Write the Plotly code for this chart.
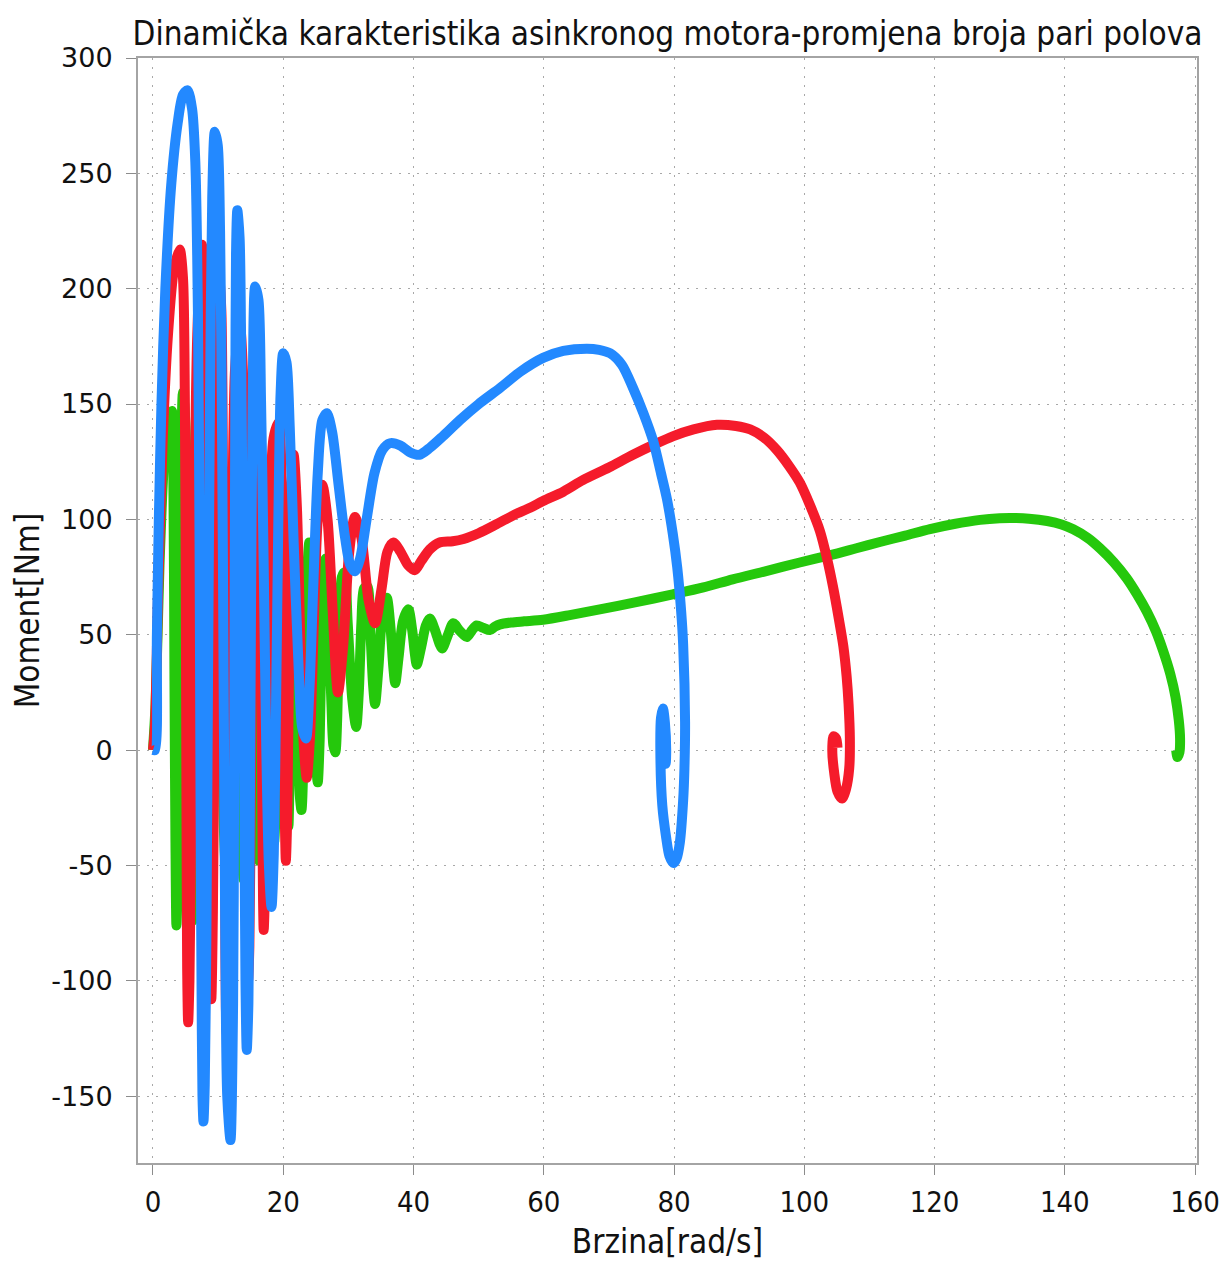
import plotly.graph_objects as go

# ---- data (speed [rad/s], torque [Nm]) ----
blue_x = [0, 0.3, 0.6, 0.9, 1.3, 1.9, 2.8, 3.8, 4.6, 5.3, 6.0, 6.5, 6.9, 7.15, 7.3, 7.45, 7.6, 7.75, 7.95,
          8.2, 8.45, 8.75, 9.1, 9.5, 9.95, 10.3, 10.6, 10.85, 11.1, 11.4, 11.9, 12.3, 12.45, 12.55, 12.65,
          12.75, 12.95, 13.3, 13.55, 13.8, 14.0, 14.2, 14.4, 14.65, 14.85, 15.05, 15.3, 15.7, 16.2, 16.6,
          17.0, 17.4, 17.8, 18.2, 18.55, 18.9, 19.25, 19.6, 20.0, 20.5, 21.0, 21.6, 22.3, 22.9, 23.5, 24.0,
          24.6, 25.3, 26.0, 26.7, 27.5, 28.5, 29.5, 30.3, 31.0, 31.8, 32.8, 34.0, 35.2, 36.4, 38.0, 39.5,
          40.9, 42.5, 44.5, 47.1, 50.0, 53.3, 56.4, 59.9, 63.0, 66.6, 68.5, 70.2, 72.0, 73.7, 75.3, 76.8,
          78.0, 78.9, 79.8, 80.5, 81.1, 81.4, 81.7, 81.6, 81.4, 80.9, 80.4, 79.9, 79.3, 78.8, 78.2, 77.9,
          78.0, 78.3, 78.6, 78.8, 78.7, 78.4, 78.5, 78.6]
blue_y = [0, 0, 50, 100, 150, 200, 245, 272, 284, 286, 278, 255, 190, 90, -20, -100, -150, -161, -145,
          -80, 30, 150, 240, 268, 262, 225, 140, 30, -80, -150, -169, -110, -20, 70, 160,
          215, 234, 222, 170, 80, -10, -100, -130, -110, -40, 60, 150, 201, 195, 150,
          80, 0, -50, -68, -45, 20, 100, 155, 172, 168, 140, 90, 40, 10, 5, 25,
          70, 120, 143, 146, 138, 115, 92, 80, 77.5, 83, 100, 120, 130, 133, 132, 129,
          128, 131, 136, 143, 150, 157, 164, 170, 173, 174, 173.5, 172, 167, 157, 146, 134,
          120, 109, 94, 79, 60, 46, 12, -8, -22, -40, -47, -49, -46, -38, -24, 0,
          14, 18, 12, 0, -6, -3, 2, 0]

red_x = [0, 0.3, 0.8, 1.5, 2.3, 3.2, 4.1, 4.6, 4.9, 5.05, 5.15, 5.25, 5.4, 5.6, 5.9, 6.3, 6.8, 7.5,
         8.0, 8.3, 8.5, 8.65, 8.8, 8.95, 9.2, 9.45, 9.7, 9.95, 10.2, 10.5, 10.75, 10.95, 11.1, 11.2,
         11.35, 11.55, 11.8, 12.15, 12.6, 13.3, 13.8, 14.1, 14.3, 14.45, 14.6, 14.8, 15.05, 15.35, 15.7,
         16.0, 16.35, 16.6, 16.8, 16.9, 17.0, 17.2, 17.5, 17.9, 18.5, 19.3, 19.8, 20.05, 20.2, 20.4,
         20.6, 20.9, 21.2, 21.6, 22.1, 22.6, 23.1, 23.6, 24.1, 24.7, 25.3, 26.0, 26.8, 27.6, 28.4,
         29.2, 30.1, 31.0, 32.0, 33.1, 34.1, 35.1, 36.0, 36.9, 38.0, 39.2, 40.2, 41.2, 42.5, 44.0,
         46.0, 47.7, 50.0, 52.8, 55.5, 57.9, 59.9, 63.0, 66.0, 70.0, 73.7, 77.0, 79.8, 83.0, 86.6,
         89.5, 91.7, 93.8, 95.8, 97.7, 99.3, 100.9, 102.4, 103.5, 104.4, 105.3, 106.0, 106.5, 106.8,
         107.0, 106.9, 106.4, 105.8, 105.1, 104.6, 104.3, 104.5, 104.9, 105.1]
red_y = [0, 10, 70, 135, 180, 208, 217, 205, 150, 60, -30, -95, -118, -100, -20, 90, 180, 219,
         205, 140, 40, -50, -100, -108, -70, 20, 120, 185, 204, 190, 120, 20, -70, -112,
         -123, -105, -20, 90, 165, 186, 165, 90, 0, -70, -100, -85, -10, 90, 150,
         168, 140, 60, -30, -65, -78, -60, 10, 90, 135, 142, 110, 30, -20, -48,
         -30, 40, 110, 128, 105, 50, 5, -12, 5, 55, 100, 115, 100, 60, 25,
         45, 85, 101, 92, 65, 55, 70, 86, 90, 86, 80, 78, 82, 87, 90,
         90.5, 91.5, 94, 98, 102, 105, 108, 112, 117, 122.5, 128, 132.5, 136, 139, 141,
         140.5, 139, 135.5, 130, 123, 116, 106, 95, 83, 71, 57, 45, 32, 20,
         5, -8, -17, -21, -18, -10, 0, 6, 5, 1]

green_x = [0, 0.4, 1.0, 1.7, 2.4, 2.9, 3.15, 3.3, 3.45, 3.6, 3.8, 4.0, 4.25, 4.6, 5.0, 5.3, 5.55,
           5.8, 6.1, 6.4, 6.7, 7.0, 7.3, 7.7, 8.0, 8.3, 8.7, 9.0, 9.3, 9.6, 9.9, 10.3, 10.6, 10.9,
           11.4, 11.7, 12.0, 12.25, 12.5, 12.9, 13.2, 13.5, 13.9, 14.2, 14.5, 14.75, 15.0, 15.4,
           15.7, 16.0, 16.3, 16.6, 16.9, 17.15, 17.4, 17.8, 18.1, 18.35, 18.6, 18.9, 19.2, 19.45,
           19.7, 20.1, 20.4, 20.6, 20.8, 21.0, 21.2, 21.4, 21.6, 22.0, 22.3, 22.55, 22.8, 23.1,
           23.4, 23.7, 24.0, 24.4, 24.8, 25.1, 25.3, 25.6, 25.9, 26.2, 26.5, 26.9, 27.4, 27.7,
           28.0, 28.3, 28.6, 29.0, 29.4, 29.9, 30.6, 31.2, 31.6, 32.0, 32.4, 32.9, 33.4, 33.8,
           34.1, 34.6, 35.2, 35.9, 36.5, 36.9, 37.2, 37.7, 38.4, 39.2, 39.8, 40.2, 40.5, 41.2,
           41.9, 42.5, 43.3, 44.0, 44.4, 45.3, 46.1, 47.0, 47.7, 48.2, 49.0, 49.7, 50.7, 51.7,
           52.5, 53.3, 55.0, 57.0, 59.9, 64.0, 68.6, 74.0, 79.8, 84.5, 89.0, 94.0, 99.3, 104.0,
           108.0, 111.6, 115.5, 119.3, 123.0, 127.0, 130.0, 132.0, 134.5, 137.3, 139.5, 141.3,
           143.5, 145.4, 147.5, 149.5, 151.1, 152.6, 154.0, 155.1, 156.2, 157.0, 157.5, 157.7,
           157.6, 157.3, 157.1]
green_y = [0, 20, 80, 125, 143, 147, 110, 30, -40, -76, -55, 20, 110, 155, 140, 60, -20,
           -65, -74, -40, 50, 125, 150, 120, 30, -40, -70, -45, 35, 110, 140, 115, 30, -35,
           -63, -40, 30, 100, 130, 105, 30, -30, -56, -35, 30, 95, 120, 95,
           25, -25, -48, -28, 30, 90, 112, 88, 25, -20, -40, -20, 35, 85,
           105, 80, 20, -15, -33, -5, 50, 85, 98, 70, 10, -20, -26, -5,
           40, 78, 90, 65, 15, -8, -14, 5, 50, 80, 83, 60, 20, 2,
           -1, 15, 50, 75, 77, 55, 22, 10, 25, 55, 70, 71, 50, 28,
           20, 35, 58, 66, 52, 36, 29, 40, 56, 61, 52, 42, 37, 45,
           54, 57, 52, 46, 44, 50, 55, 52, 50, 49, 52, 54, 53, 52,
           53.5, 54.5, 55.3, 55.8, 56.5, 58.5, 61, 64, 67.5, 70.5, 74, 77.5, 81.3, 84.5,
           87.5, 90.2, 93, 95.8, 98, 99.8, 100.5, 100.6, 100.3, 99.3, 97.8, 95.7,
           92, 87.5, 81.5, 74.5, 67.5, 60, 51.5, 43, 33, 23, 13, 5,
           -1, -3, 0]

x_ticks = [0, 20, 40, 60, 80, 100, 120, 140, 160]
x_tick_text = ["0", "20", "40", "60", "80", "100", "120", "140", "160"]
y_ticks = [-150, -100, -50, 0, 50, 100, 150, 200, 250, 300]
y_tick_text = ["-150", "-100", "-50", "0", "50", "100", "150", "200", "250", "300"]

series = [
    (green_x, green_y, "#25c80c"),
    (red_x, red_y, "#f51b2b"),
    (blue_x, blue_y, "#2389ff"),
]

fig = go.Figure()
for xs, ys, col in series:
    fig.add_trace(go.Scatter(x=xs, y=ys, mode="lines",
                             line=dict(color=col, width=10, shape="spline", smoothing=0.8),
                             showlegend=False, hoverinfo="skip"))

axis_common = dict(
    showgrid=True, gridcolor="#a8a8a8", griddash="2px,7px", gridwidth=1,
    showline=True, linecolor="#a4a4a4", linewidth=2, mirror=True,
    ticks="outside", ticklen=10, tickcolor="#8c8c8c", tickwidth=1,
    zeroline=False, automargin=False,
)

fig.update_layout(
    width=1219, height=1253,
    paper_bgcolor="white", plot_bgcolor="white",
    margin=dict(l=130, r=30, t=50, b=98),
    title=dict(text="Dinamička karakteristika asinkronog motora-promjena broja pari polova",
               xref="paper", x=0.5, xanchor="center",
               yref="container", y=1 - 25 / 1253, yanchor="middle",
               font=dict(family="DejaVu Sans Condensed", size=33, color="#111111")),
    xaxis=dict(range=[-2.3, 160.3], tickvals=x_ticks, ticktext=x_tick_text,
               ticklabelstandoff=2,
               tickfont=dict(family="Liberation Sans Narrow, DejaVu Sans Condensed", size=29,
                             color="#111111"),
               title=dict(text="Brzina[rad/s]", standoff=14,
                          font=dict(family="DejaVu Sans Condensed", size=33, color="#111111")),
               **axis_common),
    yaxis=dict(range=[-179, 300], tickvals=y_ticks, ticktext=y_tick_text,
               ticklabelstandoff=8,
               tickfont=dict(family="DejaVu Sans", size=27, color="#111111"),
               title=dict(text="Moment[Nm]", standoff=4,
                          font=dict(family="DejaVu Sans Condensed", size=33, color="#111111")),
               **axis_common),
)

fig.write_html("out.html")
